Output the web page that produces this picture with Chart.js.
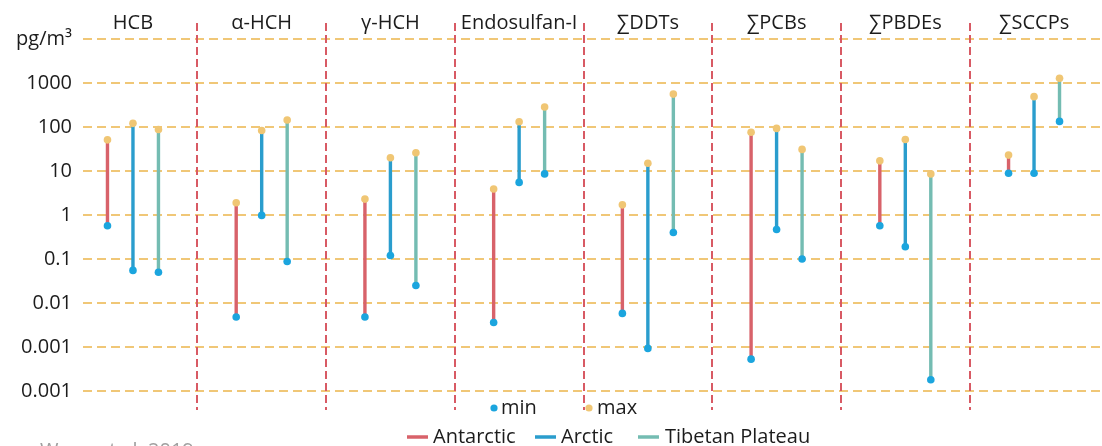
<!DOCTYPE html>
<html>
<head>
<meta charset="utf-8">
<script src="https://cdn.jsdelivr.net/npm/chart.js@4/dist/chart.umd.min.js"></script>
<style>
    body { margin: 0; background: #ffffff; }
    #cadre { position: relative; width: 1102px; height: 446px; }
</style>
</head>
<body>
<div id="cadre"><canvas id="graph"></canvas></div>
<script>
// ==========================================
// DATA - min / max concentrations (pg/m3)
// ==========================================

const categories = ["HCB", "α-HCH", "γ-HCH", "Endosulfan-I", "∑DDTs", "∑PCBs", "∑PBDEs", "∑SCCPs"];

const antarcticMin = [0.57, 0.0048, 0.0048, 0.0036, 0.0058, 0.00053, 0.57, 8.9];
const antarcticMax = [51, 1.9, 2.3, 3.9, 1.7, 76, 17, 23];

const arcticMin = [0.055, 0.98, 0.12, 5.5, 0.00093, 0.47, 0.19, 8.9];
const arcticMax = [121, 83, 20, 132, 15, 93, 52, 490];

const tibetMin = [0.05, 0.088, 0.025, 8.6, 0.4, 0.1, 0.00018, 134];
const tibetMax = [88, 144, 26, 285, 560, 31, 8.6, 1280];

const yTickValues = [10000, 1000, 100, 10, 1, 0.1, 0.01, 0.001, 0.0001];
const yTickLabels = ["pg/m³", "1000", "100", "10", "1", "0.1", "0.01", "0.001", "0.001"];

const seriesNames = ["Antarctic", "Arctic", "Tibetan Plateau"];
const seriesColors = ["#d8626a", "#2a9dcd", "#74bcb2"];

const minColor = "#1ba5de";
const maxColor = "#f0c674";
const gridColor = "#f0c777";
const sepColor = "#d85a64";
const textColor = "#1c1c1c";

Chart.defaults.font.family = "'Open Sans', sans-serif";

function ranges(mins, maxs) {
    return mins.map((v, i) => [v, maxs[i]]);
}

// ==========================================
// DECOR : grid, separators, dots, legend
// ==========================================

const decor = {
    id: "decor",

    beforeDatasetsDraw(chart) {
        const ctx = chart.ctx;
        const y = chart.scales.y;
        const x = chart.scales.x;

        ctx.save();

        // horizontal dashed lines
        ctx.strokeStyle = gridColor;
        ctx.lineWidth = 2.2;
        ctx.setLineDash([9, 5]);
        for (const v of yTickValues) {
            const py = Math.round(y.getPixelForValue(v));
            ctx.beginPath();
            ctx.moveTo(83, py);
            ctx.lineTo(chart.width, py);
            ctx.stroke();
        }

        // red separators between groups
        ctx.strokeStyle = sepColor;
        ctx.lineWidth = 2;
        ctx.setLineDash([8, 4]);
        for (let i = 0; i < categories.length - 1; i++) {
            const px = Math.round((x.getPixelForValue(i) + x.getPixelForValue(i + 1)) / 2);
            ctx.beginPath();
            ctx.moveTo(px, 23);
            ctx.lineTo(px, 410);
            ctx.stroke();
        }

        // y labels (drawn here so they are not clipped to the axis box)
        ctx.setLineDash([]);
        ctx.font = "20px 'Open Sans'";
        ctx.fillStyle = textColor;
        ctx.textAlign = "right";
        ctx.textBaseline = "middle";
        yTickValues.forEach((v, i) => {
            ctx.fillText(yTickLabels[i], 72, y.getPixelForValue(v));
        });

        ctx.restore();
    },

    afterDatasetsDraw(chart) {
        const ctx = chart.ctx;

        ctx.save();
        chart.data.datasets.forEach((ds, d) => {
            const meta = chart.getDatasetMeta(d);
            meta.data.forEach(bar => {
                ctx.fillStyle = minColor;
                ctx.beginPath();
                ctx.arc(bar.x, bar.base, 3.8, 0, Math.PI * 2);
                ctx.fill();

                ctx.fillStyle = maxColor;
                ctx.beginPath();
                ctx.arc(bar.x, bar.y, 3.8, 0, Math.PI * 2);
                ctx.fill();
            });
        });
        ctx.restore();
    },

    afterDraw(chart) {
        const ctx = chart.ctx;

        ctx.save();
        ctx.font = "20px 'Open Sans'";
        ctx.textBaseline = "alphabetic";
        ctx.textAlign = "left";

        // min / max
        ctx.fillStyle = minColor;
        ctx.beginPath();
        ctx.arc(494, 408, 3.6, 0, Math.PI * 2);
        ctx.fill();
        ctx.fillStyle = textColor;
        ctx.fillText("min", 501, 414);

        ctx.fillStyle = maxColor;
        ctx.beginPath();
        ctx.arc(589, 408, 3.6, 0, Math.PI * 2);
        ctx.fill();
        ctx.fillStyle = textColor;
        ctx.fillText("max", 597, 414);

        // regions
        const lineX = [407, 535, 638];
        const textX = [433, 561, 665];
        ctx.lineWidth = 3.5;
        for (let i = 0; i < seriesNames.length; i++) {
            ctx.strokeStyle = seriesColors[i];
            ctx.beginPath();
            ctx.moveTo(lineX[i], 437);
            ctx.lineTo(lineX[i] + 21, 437);
            ctx.stroke();
            ctx.fillStyle = textColor;
            ctx.fillText(seriesNames[i], textX[i], 443);
        }

        // source
        ctx.fillStyle = "#a0a0a0";
        ctx.fillText("Wang et al. 2019", 40, 457);

        ctx.restore();
    }
};

// ==========================================
// CHART
// ==========================================

new Chart(document.getElementById("graph"), {

    type: "bar",

    data: {
        labels: categories,
        datasets: [
            { label: seriesNames[0], data: ranges(antarcticMin, antarcticMax), backgroundColor: seriesColors[0] },
            { label: seriesNames[1], data: ranges(arcticMin, arcticMax), backgroundColor: seriesColors[1] },
            { label: seriesNames[2], data: ranges(tibetMin, tibetMax), backgroundColor: seriesColors[2] }
        ]
    },

    options: {
        responsive: true,
        maintainAspectRatio: false,
        animation: false,
        categoryPercentage: 0.594,
        barPercentage: 1,
        maxBarThickness: 3.4,
        borderWidth: 0,
        layout: {
            padding: { top: 7, right: 3.6, bottom: 55, left: 0 }
        },
        plugins: {
            legend: { display: false },
            tooltip: { enabled: false }
        },
        scales: {
            x: {
                position: "top",
                offset: true,
                grid: { display: false, drawTicks: false },
                border: { display: false },
                ticks: {
                    color: textColor,
                    font: { size: 20 },
                    padding: 4,
                    autoSkip: false,
                    maxRotation: 0
                }
            },
            y: {
                type: "logarithmic",
                min: 0.0001,
                max: 10000,
                grid: { display: false, drawTicks: false },
                border: { display: false },
                afterBuildTicks: scale => {
                    scale.ticks = yTickValues.map(v => ({ value: v }));
                },
                afterFit: scale => {
                    scale.width = 68.6;
                },
                ticks: { display: false }
            }
        }
    },

    plugins: [decor]
});
</script>
</body>
</html>
